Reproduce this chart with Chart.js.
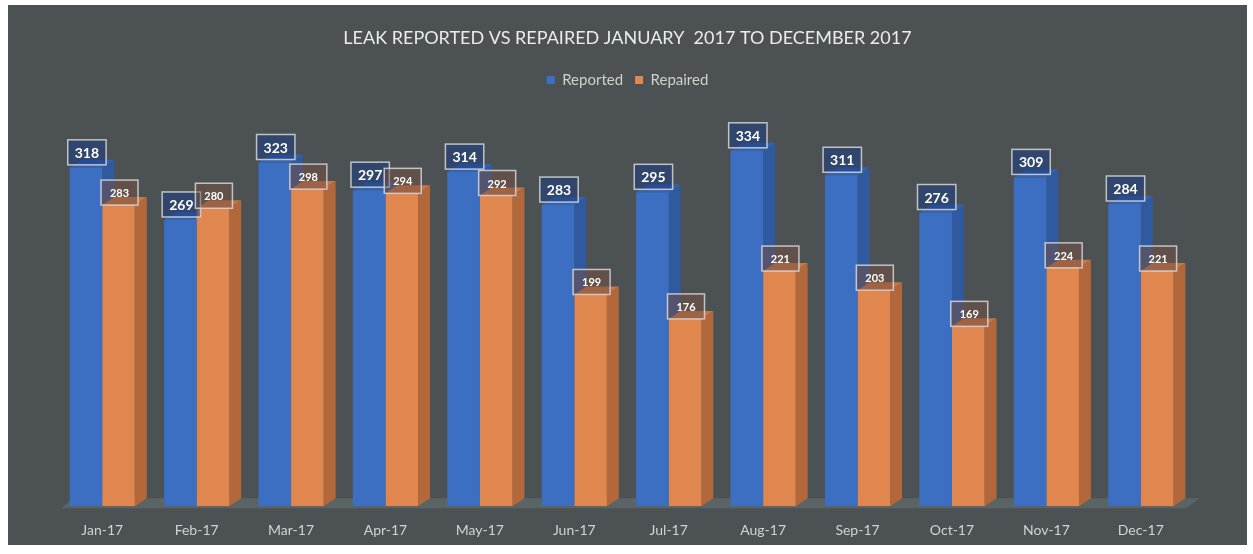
<!DOCTYPE html>
<html>
<head>
<meta charset="utf-8">
<script src="https://cdn.jsdelivr.net/npm/chart.js@4.4.1/dist/chart.umd.min.js"></script>
<style>
  html, body { margin: 0; padding: 0; background: #fff; }
  #wrap { position: absolute; left: 8px; top: 5px; width: 1239px; height: 540px; background: #4c5253; }
</style>
</head>
<body>
<div id="wrap"><canvas id="chart"></canvas></div>
<script>
const MONTHS = ["Jan-17", "Feb-17", "Mar-17", "Apr-17", "May-17", "Jun-17",
  "Jul-17", "Aug-17", "Sep-17", "Oct-17", "Nov-17", "Dec-17"];
const REPORTED = [318, 269, 323, 297, 314, 283, 295, 334, 311, 276, 309, 284];
const REPAIRED = [283, 280, 298, 294, 292, 199, 176, 221, 203, 169, 224, 221];

const DEPTH_X = 12;
const DEPTH_Y = 8;
const FONT = "Lato, 'Open Sans', sans-serif";

// side + top faces and the floor, drawn before the front faces
const depthPlugin = {
  id: "depth",
  beforeDatasetsDraw(chart) {
    const ctx = chart.ctx;
    const a = chart.chartArea;
    const base = chart.scales.y.getPixelForValue(0);
    ctx.save();
    ctx.fillStyle = "#5b6464";
    ctx.beginPath();
    ctx.moveTo(a.left + 6, base + 2);
    ctx.lineTo(a.right - 2, base + 2);
    ctx.lineTo(a.right + DEPTH_X, base - DEPTH_Y);
    ctx.lineTo(a.left + 6 + DEPTH_X, base - DEPTH_Y);
    ctx.closePath();
    ctx.fill();

    chart.data.datasets.forEach((ds, i) => {
      const meta = chart.getDatasetMeta(i);
      meta.data.forEach((bar) => {
        const { x, y, width } = bar.getProps(["x", "y", "width"], true);
        const l = x - width / 2;
        const r = x + width / 2;
        ctx.fillStyle = ds.sideColor;
        ctx.beginPath();
        ctx.moveTo(r, y);
        ctx.lineTo(r + DEPTH_X, y - DEPTH_Y);
        ctx.lineTo(r + DEPTH_X, base - DEPTH_Y);
        ctx.lineTo(r, base);
        ctx.closePath();
        ctx.fill();
        ctx.fillStyle = ds.topColor;
        ctx.beginPath();
        ctx.moveTo(l, y);
        ctx.lineTo(l + DEPTH_X, y - DEPTH_Y);
        ctx.lineTo(r + DEPTH_X, y - DEPTH_Y);
        ctx.lineTo(r, y);
        ctx.closePath();
        ctx.fill();
      });
    });
    ctx.restore();
  },
};

// boxed value labels above each bar
const labelPlugin = {
  id: "boxLabels",
  afterDatasetsDraw(chart) {
    const ctx = chart.ctx;
    ctx.save();
    chart.data.datasets.forEach((ds, i) => {
      const meta = chart.getDatasetMeta(i);
      ctx.font = `bold ${ds.labelSize}px ${FONT}`;
      meta.data.forEach((bar, j) => {
        const txt = String(ds.data[j]);
        const w = Math.max(ctx.measureText(txt).width + 14, 37);
        const h = 25;
        const cx = bar.x + 1;
        const bottom = bar.y - ds.labelGap;
        ctx.fillStyle = ds.labelFill;
        ctx.fillRect(cx - w / 2, bottom - h, w, h);
        ctx.strokeStyle = "rgba(215,215,215,0.85)";
        ctx.lineWidth = 1.5;
        ctx.strokeRect(cx - w / 2, bottom - h, w, h);
        ctx.fillStyle = "#ffffff";
        ctx.textAlign = "center";
        ctx.textBaseline = "middle";
        ctx.fillText(txt, cx, bottom - h / 2 + 1);
      });
    });
    ctx.restore();
  },
};

new Chart(document.getElementById("chart"), {
  type: "bar",
  data: {
    labels: MONTHS,
    datasets: [
      {
        label: "Reported",
        data: REPORTED,
        backgroundColor: "#3c6fc2",
        sideColor: "#2f5a9f",
        topColor: "#3563ad",
        labelFill: "rgba(25,60,130,0.55)",
        labelSize: 14,
        labelGap: 3,
      },
      {
        label: "Repaired",
        data: REPAIRED,
        backgroundColor: "#e0874f",
        sideColor: "#b2683a",
        topColor: "#c57746",
        labelFill: "rgba(120,80,65,0.5)",
        labelSize: 11,
        labelGap: 0,
      },
    ],
  },
  options: {
    responsive: true,
    maintainAspectRatio: false,
    animation: false,
    layout: { padding: { left: 12, right: 12, bottom: -10, top: 0 } },
    categoryPercentage: 0.69,
    barPercentage: 1.0,
    scales: {
      x: {
        grid: { display: false, drawTicks: false },
        border: { display: false },
        ticks: { color: "#cfd3d3", font: { family: FONT, size: 14 }, padding: 16 },
      },
      y: {
        min: 0,
        max: 384,
        grid: { display: false, drawTicks: false },
        border: { display: false },
        ticks: { display: false },
        afterFit: (scale) => { scale.width = 35; },
      },
      y2: {
        position: "right",
        min: 0,
        max: 384,
        grid: { display: false, drawTicks: false },
        border: { display: false },
        ticks: { display: false },
        afterFit: (scale) => { scale.width = 47; },
      },
    },
    plugins: {
      title: {
        display: true,
        text: "LEAK REPORTED VS REPAIRED JANUARY  2017 TO DECEMBER 2017",
        color: "#ebebeb",
        font: { family: FONT, size: 18, weight: "normal" },
        padding: { top: 22, bottom: 12 },
      },
      legend: {
        labels: {
          color: "#cfcfcf",
          font: { family: FONT, size: 15 },
          boxWidth: 8,
          boxHeight: 8,
          padding: 12,
        },
      },
      tooltip: { enabled: false },
    },
  },
  plugins: [depthPlugin, labelPlugin],
});
</script>
</body>
</html>
